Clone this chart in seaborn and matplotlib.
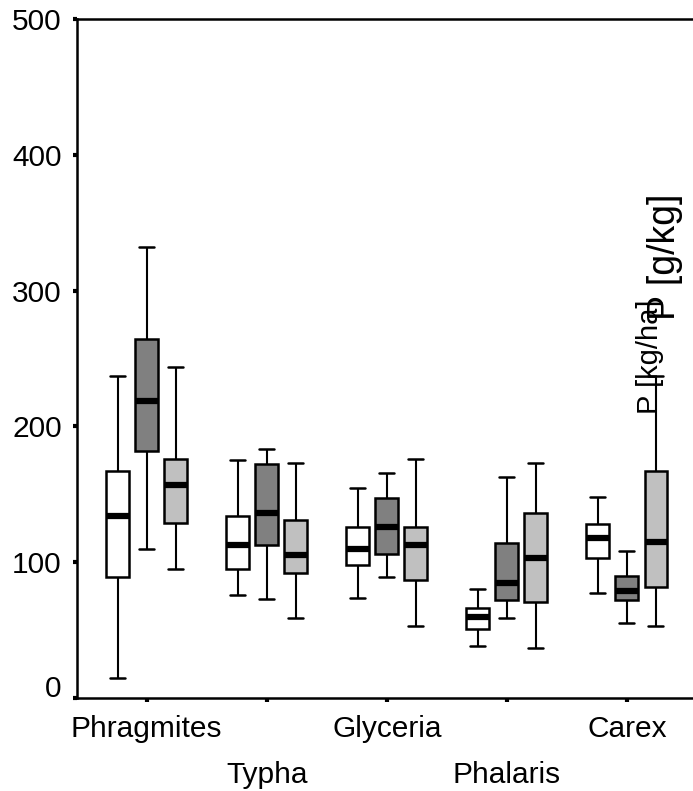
import matplotlib
matplotlib.use("Agg")
import matplotlib.pyplot as plt
import matplotlib.transforms as mtransforms
import pandas as pd
import seaborn as sns

# plant species on the x axis and the three sample groups (box colours)
species = ["Phragmites", "Typha", "Glyceria", "Phalaris", "Carex"]
groups = ["A", "B", "C"]
group_colors = ["#ffffff", "#808080", "#c0c0c0"]

# five-number summaries: low whisker, Q1, median, Q3, high whisker
stats_a = [
    [15, 89, 134, 167, 237],
    [76, 95, 113, 134, 175],
    [74, 98, 110, 126, 155],
    [38, 51, 60, 66, 80],
    [77, 103, 118, 128, 148],
]
stats_b = [
    [110, 182, 219, 264, 332],
    [73, 113, 136, 172, 183],
    [89, 106, 126, 147, 166],
    [59, 72, 85, 114, 163],
    [55, 72, 79, 90, 108],
]
stats_c = [
    [95, 129, 157, 176, 244],
    [59, 92, 105, 131, 173],
    [53, 87, 113, 126, 176],
    [37, 71, 103, 136, 173],
    [53, 82, 115, 167, 237],
]

yticks = [0, 100, 200, 300, 400, 500]
label_small = "P [kg/ha]"
label_big = "P [g/kg]"

rows = []
for grp, stats in zip(groups, [stats_a, stats_b, stats_c]):
    for sp, vals in zip(species, stats):
        for v in vals:
            rows.append({"species": sp, "group": grp, "value": v})
df = pd.DataFrame(rows)

sns.set_style("white")
plt.rcParams["font.family"] = ["Liberation Sans", "DejaVu Sans"]
plt.rcParams["text.color"] = "black"

W, H = 693, 791
fig = plt.figure(figsize=(W / 100, H / 100), dpi=100)
ax = fig.add_axes([77 / W, 1 - 698 / H, (W - 77) / W, (698 - 19) / H])

sns.boxplot(
    data=df, x="species", y="value", hue="group", order=species, hue_order=groups,
    palette=group_colors, whis=(0, 100), width=0.725, gap=0.21,
    linewidth=1.8, linecolor="black", legend=False, ax=ax,
    medianprops={"linewidth": 4.5, "color": "black"},
    whiskerprops={"linewidth": 1.5},
    capprops={"linewidth": 1.8},
    capwidths=0.125,
)

ax.set_xlim(-0.58, 4.55)
ax.set_ylim(0, 500)
ax.set_yticks(yticks)
ax.set_xlabel("")
ax.set_ylabel("")

labels = [("\n" + s) if i % 2 else s for i, s in enumerate(species)]
ax.set_xticks(range(len(species)))
ax.set_xticklabels(labels)
for lab in ax.get_xticklabels():
    lab.set_linespacing(1.85)

ax.tick_params(axis="both", direction="out", length=3, width=3, color="black",
               labelsize=21.5, labelcolor="black")
ax.tick_params(axis="y", pad=8)
ax.tick_params(axis="x", pad=9)
ax.tick_params(left=True, bottom=True)

# the "0" label sits a little above its tick in the source
zero_lab = ax.get_yticklabels()[0]
zero_lab.set_transform(zero_lab.get_transform()
                       + mtransforms.ScaledTranslation(0, 12 / 100, fig.dpi_scale_trans))

for side in ["left", "bottom", "top"]:
    ax.spines[side].set_visible(True)
    ax.spines[side].set_color("black")
    ax.spines[side].set_linewidth(1.8)
ax.spines["right"].set_visible(False)

# overlapping rotated axis labels as they appear in the source
fig.text(650 / W, 1 - 357 / H, label_small, rotation=90, ha="center", va="center",
         fontsize=21, color="black")
fig.text(665 / W, 1 - 257 / H, label_big, rotation=90, ha="center", va="center",
         fontsize=27, color="black")

fig.savefig("out.png", dpi=100)
